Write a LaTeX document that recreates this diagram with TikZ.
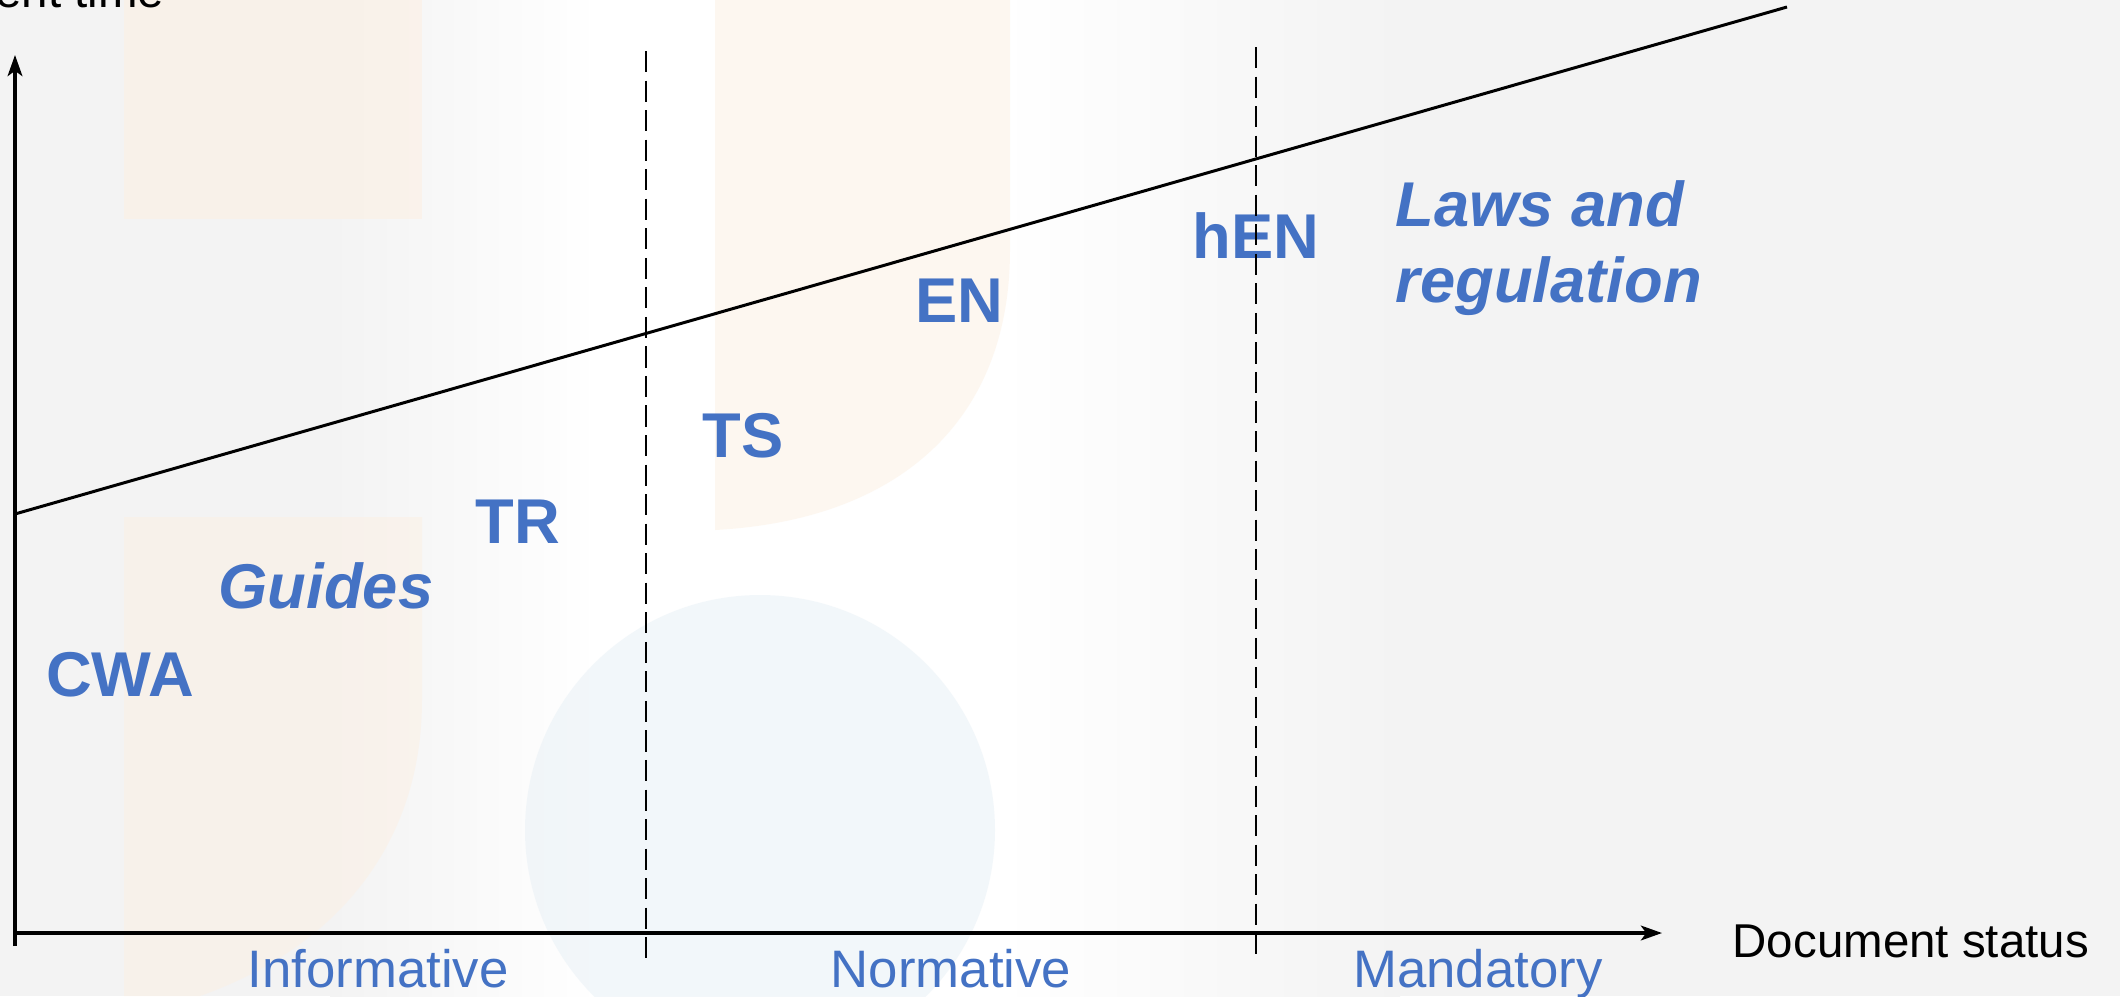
\documentclass[tikz,border=0pt]{standalone}
\usepackage{fontspec}
\setmainfont{Liberation Sans}
\usetikzlibrary{arrows.meta}
\definecolor{lblue}{HTML}{4472C4}
\definecolor{bggray}{HTML}{F3F3F3}
\definecolor{bgorange}{HTML}{FCF0E3}
\definecolor{bgblue}{HTML}{E7F0F6}
\begin{document}
\begin{tikzpicture}[x=0.01cm,y=-0.01cm,
  lab/.style={text=lblue,font=\fontsize{18}{21.6}\selectfont\bfseries,inner sep=0,anchor=base},
  labit/.style={lab,font=\fontsize{18}{21.6}\selectfont\bfseries\itshape},
  cat/.style={text=lblue,font=\fontsize{15}{18}\selectfont,inner sep=0,anchor=base},
  axislbl/.style={text=black,font=\fontsize{13.5}{16}\selectfont,inner sep=0},
  axisline/.style={line width=0.9pt,-{Stealth[length=6pt,width=4.2pt,inset=1.5pt]}},
  divider/.style={line width=0.7pt,dash pattern=on 6pt off 2.4pt},
  trend/.style={line width=0.85pt}]
\useasboundingbox (0,0) rectangle (2120,996);
\clip (0,0) rectangle (2120,996);
% faint background
\fill[bggray] (0,0) rectangle (2120,996);
\shade[left color=bggray,right color=white] (330,0) rectangle (600,996);
\fill[white] (600,0) rectangle (1000,996);
\shade[left color=white,right color=bggray] (1000,0) rectangle (1400,996);
\fill[bgorange,opacity=0.6] (124,0) rectangle (422,219);
\fill[bgorange,opacity=0.5] (124,517) -- (422,517) -- (422,700) .. controls (422,850) and (330,950) .. (200,996) -- (124,996) -- cycle;
\fill[bgorange,opacity=0.5] (715,0) -- (1010,0) -- (1010,250) .. controls (1010,420) and (900,520) .. (715,530) -- cycle;
\fill[bgblue,opacity=0.5] (760,830) circle (235);
% axes
\coordinate (O) at (15,933);
\coordinate (ybot) at (15,946);
\coordinate (ytip) at (15,55);
\coordinate (xtip) at (1662,933);
\draw[axisline] (ybot) -- (ytip);
\draw[axisline] (O) -- (xtip);
% trend line
\coordinate (tA) at (15,514);
\coordinate (tB) at (1787,7);
\draw[trend] (tA) -- (tB);
% labels
\node[lab] (cwa) at (120,696) {CWA};
\node[labit] (guides) at (326,608) {Guides};
\node[lab] (tr) at (518,543) {TR};
\node[lab] (ts) at (743,457) {TS};
\node[lab] (en) at (959,322) {EN};
\node[lab] (hen) at (1256,258) {hEN};
\node[labit,anchor=north west,align=left] (laws) at (1395,180) {Laws and\\regulation};
% dividers
\coordinate (d1t) at (646,51);
\coordinate (d1b) at (646,962);
\coordinate (d2t) at (1256,47);
\coordinate (d2b) at (1256,957);
\draw[divider] (d1t) -- (d1b);
\draw[divider] (d2t) -- (d2b);
% categories
\node[cat] (inf) at (378,987) {Informative};
\node[cat] (nor) at (951,987) {Normative};
\node[cat] (man) at (1478,987) {Mandatory};
\node[axislbl,anchor=base west] (dstat) at (1732,957) {Document status};
\node[axislbl,anchor=base east] (dtime) at (165,7) {Development time};
\end{tikzpicture}
\end{document}
